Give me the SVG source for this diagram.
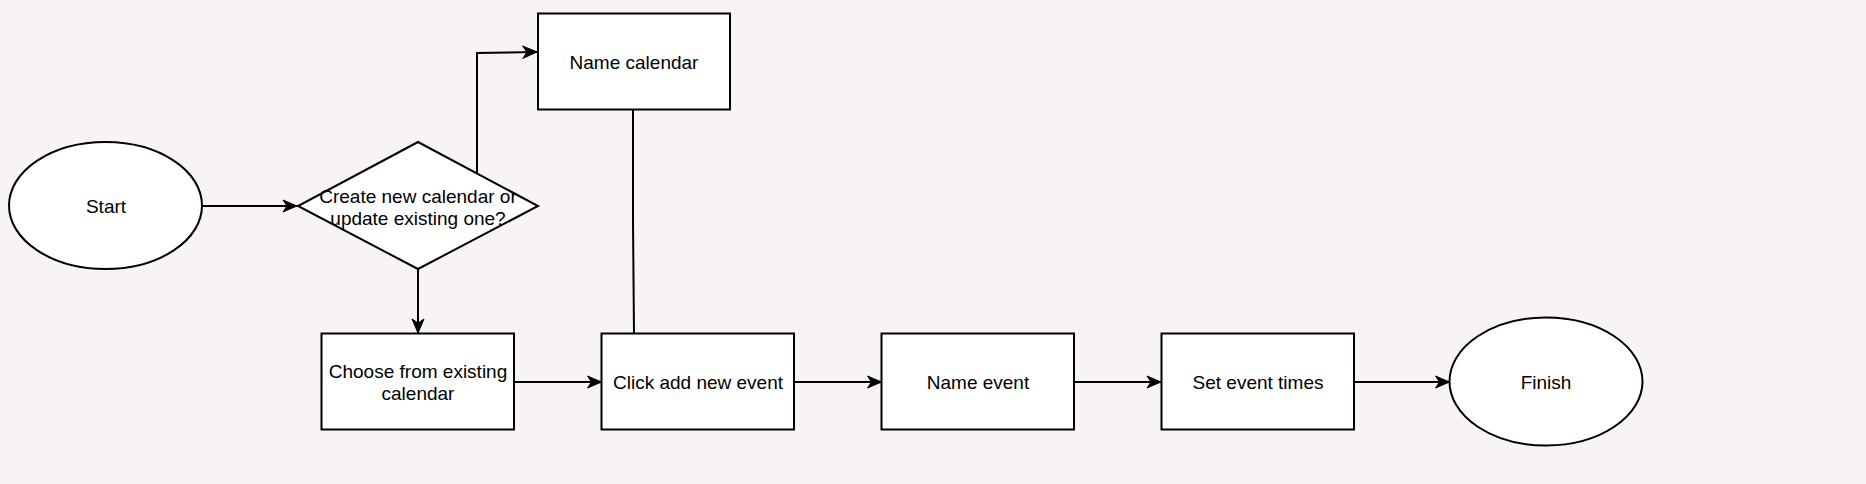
<svg xmlns="http://www.w3.org/2000/svg" width="1866" height="484" viewBox="0 0 1866 484">
<defs>
<style>
.shape{fill:#ffffff;stroke:#000000;stroke-width:2}
.edge{fill:none;stroke:#000000;stroke-width:2}
.lbl{font-family:"Liberation Sans",Arial,Helvetica,sans-serif;font-size:19px;fill:#000000;text-anchor:middle;dominant-baseline:central}
</style>
<marker id="arrow" markerUnits="userSpaceOnUse" markerWidth="16" markerHeight="14" viewBox="0 0 16 14" refX="15" refY="7" orient="auto">
<path d="M1,1 L15,7 L1,13 L5,7 Z" fill="#000000" stroke="#000000" stroke-width="1"/>
</marker>
</defs>
<rect x="0" y="0" width="1866" height="484" fill="#f8f4f3"/>
<g id="connectors">
<path class="edge" d="M202,206 L297,206" marker-end="url(#arrow)"/>
<path class="edge" d="M418,269 L418,333" marker-end="url(#arrow)"/>
<path class="edge" d="M477,173 L477,53 L537,52" marker-end="url(#arrow)"/>
<path class="edge" d="M633,109.5 L633,222 L634,333"/>
<path class="edge" d="M514,382 L601.5,382" marker-end="url(#arrow)"/>
<path class="edge" d="M794,382 L881.5,382" marker-end="url(#arrow)"/>
<path class="edge" d="M1074.5,382 L1161,382" marker-end="url(#arrow)"/>
<path class="edge" d="M1354,382 L1449.5,382" marker-end="url(#arrow)"/>
</g>
<g id="start">
<ellipse class="shape" cx="105.5" cy="205.5" rx="96.5" ry="63.5"/>
<text class="lbl" x="106" y="206">Start</text>
</g>
<g id="decision">
<polygon class="shape" points="418,142 538,206 418,269 298,206"/>
<text class="lbl" x="418" y="196">Create new calendar or</text>
<text class="lbl" x="418" y="218">update existing one?</text>
</g>
<g id="name-calendar">
<rect class="shape" x="538" y="13.5" width="192" height="96"/>
<text class="lbl" x="634" y="62">Name calendar</text>
</g>
<g id="choose-existing">
<rect class="shape" x="321.5" y="333.5" width="192.5" height="96"/>
<text class="lbl" x="418" y="371">Choose from existing</text>
<text class="lbl" x="418" y="393">calendar</text>
</g>
<g id="click-add">
<rect class="shape" x="601.5" y="333.5" width="192.5" height="96"/>
<text class="lbl" x="698" y="382">Click add new event</text>
</g>
<g id="name-event">
<rect class="shape" x="881.5" y="333.5" width="192.5" height="96"/>
<text class="lbl" x="978" y="382">Name event</text>
</g>
<g id="set-times">
<rect class="shape" x="1161.5" y="333.5" width="192.5" height="96"/>
<text class="lbl" x="1258" y="382">Set event times</text>
</g>
<g id="finish">
<ellipse class="shape" cx="1546" cy="381.5" rx="96.5" ry="64"/>
<text class="lbl" x="1546" y="382">Finish</text>
</g>
</svg>
